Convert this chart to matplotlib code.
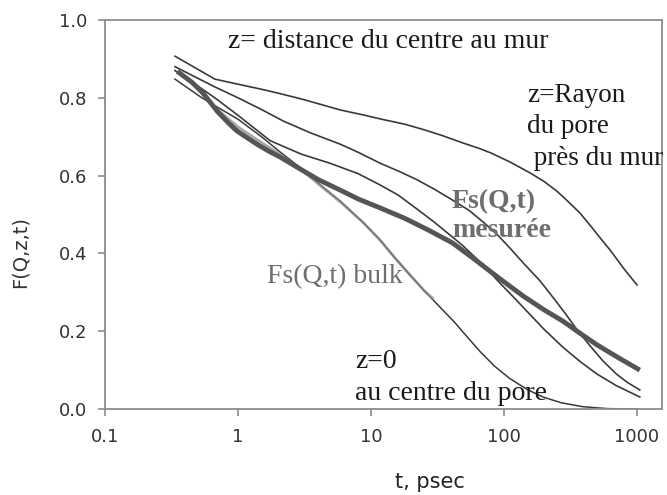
import numpy as np
import matplotlib
matplotlib.use('Agg')
import matplotlib.pyplot as plt

# courbes F(Q,z,t) pour chaque distance z, plus Fs mesurée et Fs bulk
t_mur = [0.336, 0.67, 1, 1.5, 2, 3, 5.85, 9, 12, 18, 25, 35, 49, 65, 80, 111, 157, 200, 250, 300,
         372, 450, 528, 627, 800, 1000]
f_mur = [0.907, 0.848, 0.835, 0.822, 0.812, 0.797, 0.769, 0.755, 0.745, 0.732, 0.718, 0.702, 0.684,
         0.67, 0.658, 0.635, 0.607, 0.585, 0.56, 0.535, 0.504, 0.47, 0.44, 0.409, 0.36, 0.319]

t_z2 = [0.336, 0.5, 0.67, 1, 1.5, 2.2, 3.5, 5.85, 8, 11.7, 16, 22, 30, 42, 55, 70, 88, 110, 140,
        186, 230, 290, 355, 450, 550, 700, 850, 1050]
f_z2 = [0.88, 0.85, 0.828, 0.80, 0.77, 0.74, 0.71, 0.681, 0.66, 0.632, 0.612, 0.59, 0.565, 0.535,
        0.51, 0.48, 0.45, 0.415, 0.375, 0.33, 0.29, 0.245, 0.203, 0.16, 0.125, 0.09, 0.068, 0.049]

t_z3 = [0.336, 0.5, 0.67, 1, 1.74, 3, 4.9, 8, 11.7, 16, 22, 30, 40, 49, 70, 93, 120, 150, 200,
        277, 380, 500, 700, 1050]
f_z3 = [0.87, 0.83, 0.80, 0.755, 0.69, 0.655, 0.632, 0.605, 0.576, 0.55, 0.515, 0.48, 0.445, 0.42,
        0.37, 0.324, 0.285, 0.25, 0.205, 0.159, 0.12, 0.09, 0.06, 0.031]

t_mes = [0.35, 0.45, 0.546, 0.7, 0.85, 0.98, 1.2, 1.4, 1.7, 2.07, 3, 4, 5.85, 8, 11.7, 18, 27, 41,
         60, 93, 140, 200, 280, 372, 500, 700, 1050]
f_mes = [0.868, 0.84, 0.812, 0.765, 0.735, 0.715, 0.695, 0.68, 0.663, 0.648, 0.615, 0.59, 0.563,
         0.54, 0.517, 0.49, 0.46, 0.427, 0.385, 0.335, 0.29, 0.255, 0.225, 0.195, 0.165, 0.135, 0.10]

t_z0 = [0.336, 0.535, 0.75, 1, 1.5, 2, 3.08, 4.2, 5.85, 8.7, 11.7, 15, 19.6, 25, 33, 42, 50, 66,
        85, 111, 150, 196, 270, 390, 600, 1000]
f_z0 = [0.848, 0.80, 0.77, 0.745, 0.70, 0.665, 0.615, 0.575, 0.535, 0.48, 0.435, 0.39, 0.345,
        0.305, 0.262, 0.225, 0.195, 0.148, 0.11, 0.078, 0.05, 0.031, 0.016, 0.006, 0.001, 0.0]

t_bulk = [0.5, 0.7, 1, 1.5, 2, 3.08, 4.2, 5.85, 8.7, 11.7, 15, 19.6, 25, 29]
f_bulk = [0.825, 0.77, 0.725, 0.685, 0.658, 0.612, 0.573, 0.533, 0.48, 0.434, 0.39, 0.345, 0.305, 0.285]

xticks = [0.1, 1, 10, 100, 1000]
xticklabels = ['0.1', '1', '10', '100', '1000']
yticks = [0.0, 0.2, 0.4, 0.6, 0.8, 1.0]

fig = plt.figure(figsize=(6.67, 4.95), dpi=100)
ax = fig.add_axes([0.1574, 0.1737, 0.8351, 0.7859])

fin = '#3a3a3a'
ax.plot(t_mur, f_mur, color=fin, lw=1.2)
ax.plot(t_z2, f_z2, color=fin, lw=1.2)
ax.plot(t_z3, f_z3, color=fin, lw=1.2)
ax.plot(t_z0, f_z0, color=fin, lw=1.1)
ax.plot(t_bulk, f_bulk, color='#8a8a8a', lw=2.0, alpha=0.75)
ax.plot(t_mes, f_mes, color='#555555', lw=3.5, solid_capstyle='butt')

ax.set_xscale('log')
ax.set_xlim(0.1, 1542)
ax.set_ylim(0, 1.0)
ax.set_xticks(xticks)
ax.set_xticklabels(xticklabels)
ax.xaxis.set_minor_locator(matplotlib.ticker.NullLocator())
ax.set_yticks(yticks)
ax.set_yticklabels(['%.1f' % v for v in yticks])

for s in ax.spines.values():
    s.set_color('#8c8c8c')
    s.set_linewidth(1.3)
ax.tick_params(direction='out', length=5, width=1.2, color='#8c8c8c',
               labelsize=13, labelcolor='#333333')
ax.tick_params(axis='x', pad=9)
ax.tick_params(axis='y', pad=8)

ax.set_ylabel('F(Q,z,t)', fontsize=14, family='DejaVu Sans', color='#333333', va='center')
ax.yaxis.set_label_coords(-0.153, 0.404)
ax.set_xlabel('t, psec', fontsize=15, family='DejaVu Sans', color='#222222', va='center')
ax.xaxis.set_label_coords(0.583, -0.188)

serif = 'Liberation Serif'
ax.text(0.84, 0.945, 'z= distance du centre au mur', family=serif, fontsize=20, color='#1a1a1a', va='center')
ax.text(149, 0.805, 'z=Rayon', family=serif, fontsize=19.5, color='#1a1a1a', va='center')
ax.text(149, 0.725, 'du pore', family=serif, fontsize=19.5, color='#1a1a1a', va='center')
ax.text(149, 0.645, ' près du mur', family=serif, fontsize=19.5, color='#1a1a1a', va='center')
ax.text(40.6, 0.532, 'Fs(Q,t)', family=serif, fontsize=20, color='#6e6e6e', weight='bold', va='center')
ax.text(40.6, 0.46, 'mesurée', family=serif, fontsize=20, color='#6e6e6e', weight='bold', va='center')
ax.text(1.65, 0.34, 'Fs(Q,t) bulk', family=serif, fontsize=20, color='#6e6e6e', va='center')
ax.text(7.6, 0.121, 'z=0', family=serif, fontsize=20, color='#1a1a1a', va='center')
ax.text(7.6, 0.041, 'au centre du pore', family=serif, fontsize=20, color='#1a1a1a', va='center')

fig.savefig('out.png', dpi=100)
